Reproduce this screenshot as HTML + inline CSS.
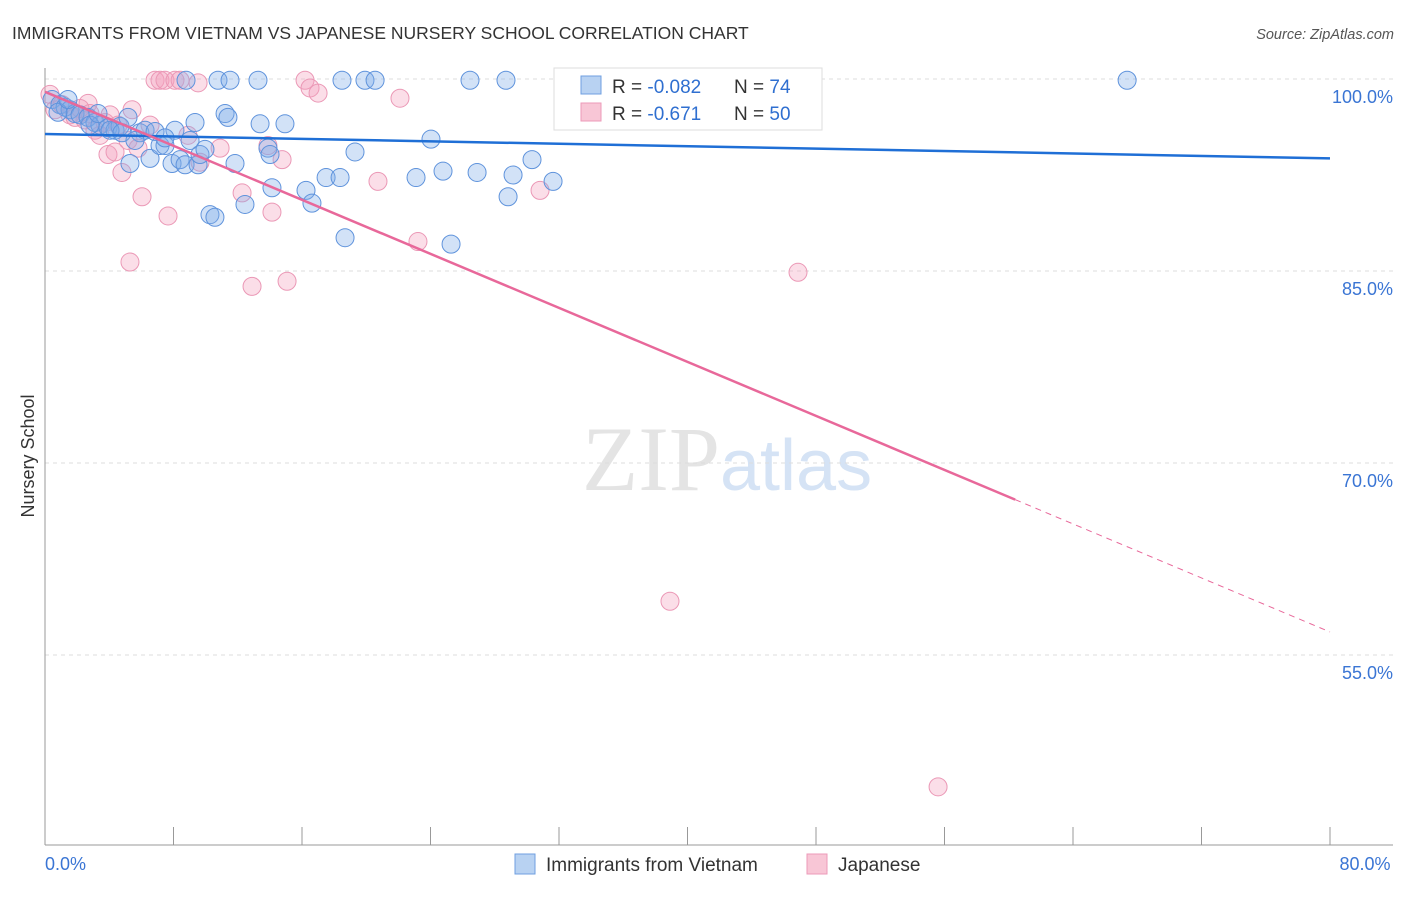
<!DOCTYPE html>
<html><head><meta charset="utf-8"><style>
body{margin:0;background:#fff;font-family:"Liberation Sans",sans-serif}
</style></head><body>
<svg id="c" width="1406" height="892" xmlns="http://www.w3.org/2000/svg">
<text x="12" y="39" font-size="17.5" fill="#333">IMMIGRANTS FROM VIETNAM VS JAPANESE NURSERY SCHOOL CORRELATION CHART</text>
<text x="1394" y="39" font-size="14.5" fill="#555" font-style="italic" text-anchor="end">Source: ZipAtlas.com</text>
<text x="720" y="490" font-size="92" fill="#e4e4e4" text-anchor="end" font-family="Liberation Serif">ZIP</text>
<text x="720" y="490" font-size="72" fill="#d5e3f5">atlas</text>
<text transform="translate(34,456) rotate(-90)" font-size="18" fill="#333" text-anchor="middle">Nursery School</text>
<g id="grid"></g><g id="pts"></g><g id="lines"></g>
<g>
<rect x="554" y="68" width="268" height="62" fill="#fff" stroke="#ddd"/>
<rect x="581" y="76" width="20" height="18" fill="#b8d2f2" stroke="#6f9fe0"/>
<rect x="581" y="103" width="20" height="18" fill="#f8c6d6" stroke="#ec9ab8"/>
<text x="612" y="93" font-size="19" fill="#333">R = <tspan fill="#2f6fd0">-0.082</tspan></text>
<text x="734" y="93" font-size="19" fill="#333">N = <tspan fill="#2f6fd0">74</tspan></text>
<text x="612" y="120" font-size="19" fill="#333">R = <tspan fill="#2f6fd0"> -0.671</tspan></text>
<text x="734" y="120" font-size="19" fill="#333">N = <tspan fill="#2f6fd0">50</tspan></text>
</g>
<g>
<rect x="515" y="854" width="20" height="20" fill="#b8d2f2" stroke="#6f9fe0"/>
<text x="546" y="871" font-size="19" fill="#333">Immigrants from Vietnam</text>
<rect x="807" y="854" width="20" height="20" fill="#f8c6d6" stroke="#ec9ab8"/>
<text x="838" y="871" font-size="19" fill="#333">Japanese</text>
</g>
</svg>
<script>
const xTicks=[0,80];
const yTicks=[100,85,70,55];
const blueX=[0.44,0.93,1.25,1.56,1.87,2.18,2.68,3.11,3.42,3.92,4.36,4.67,5.17,5.29,5.91,6.23,6.54,6.85,7.16,7.47,7.91,8.09,8.41,8.72,9.03,9.34,9.53,9.65,10.27,10.58,10.77,11.21,11.39,11.52,11.83,12.45,13.26,13.39,13.88,14.01,14.13,14.94,16.25,16.62,17.5,18.37,18.68,18.49,19.3,19.92,20.55,23.1,24.03,24.78,25.28,26.46,26.9,28.7,28.83,29.14,30.32,31.63,43.27,67.37,8.78,2.8,4.05,4.79,5.6,7.47,9.96,3.3,0.81,1.43];
const blueY=[98.4,98.0,97.8,97.6,97.3,97.2,97.0,96.6,96.4,96.2,96.0,96.3,97.0,93.4,95.8,96.0,93.8,95.9,94.8,94.8,93.4,96.0,93.7,93.3,95.2,96.6,93.3,94.1,89.4,89.2,99.9,97.3,97.0,99.9,93.4,90.2,99.9,96.5,94.6,94.1,91.5,96.5,91.3,90.3,92.3,92.3,87.6,99.9,94.3,99.9,99.9,92.3,95.3,92.8,87.1,99.9,92.7,99.9,90.8,92.5,93.7,92.0,99.9,99.9,99.9,96.4,96.0,95.8,95.2,95.4,94.5,97.3,97.4,98.4];
const pinkX=[0.31,0.62,1.06,1.56,1.87,2.49,2.68,3.11,3.42,3.74,3.92,4.36,4.79,5.17,5.29,5.42,5.79,6.04,6.54,6.85,7.16,7.47,7.66,8.09,8.41,8.9,9.53,9.65,10.9,12.27,12.89,13.88,14.13,14.76,15.07,16.19,16.5,17.0,20.73,22.1,23.22,30.82,36.86,38.91,46.88,55.6,4.05,2.18,4.55,2.8];
const pinkY=[98.8,97.6,98.0,97.2,97.0,96.8,98.1,96.0,95.6,96.6,94.1,94.3,92.7,95.2,85.7,97.6,94.6,90.8,96.4,99.9,99.9,99.9,89.3,99.9,99.9,95.6,99.7,93.5,94.6,91.1,83.8,94.8,89.6,93.7,84.2,99.9,99.3,98.9,92.0,98.5,87.3,91.3,99.9,59.2,84.9,44.7,97.2,97.7,96.4,97.3];
const blueFit=[95.7,93.8];
const pinkFit=[99.0,56.8];
const pinkSolidEnd=60.4;
const NS="http://www.w3.org/2000/svg";
const X=v=>45+v/80*1285, Y=v=>79+(100-v)*12.8;
function mk(t,a,p){const e=document.createElementNS(NS,t);for(const k in a)e.setAttribute(k,a[k]);document.getElementById(p).appendChild(e);return e;}
for(const t of yTicks){
 const l=mk('line',{x1:45,x2:1393,y1:Y(t),y2:Y(t),stroke:'#ddd','stroke-dasharray':'4,4'},'grid');
 
 
 const tx=mk('text',{x:1393,y:Y(t)+24,'font-size':18,fill:'#3a75d4','text-anchor':'end'},'grid');tx.textContent=t.toFixed(1)+'%';
 
 
}
mk('line',{x1:45,x2:45,y1:68,y2:845,stroke:'#999'},'grid');
mk('line',{x1:45,x2:1393,y1:845,y2:845,stroke:'#999'},'grid');
for(let i=0;i<=10;i++){const x=X(i*8);mk('line',{x1:x,x2:x,y1:827,y2:845,stroke:'#999'},'grid');}
xTicks.forEach((t,i)=>{const tx=mk('text',{x:X(t)+(i?0:0),y:870,'font-size':18,fill:'#3a75d4','text-anchor':i?'middle':'start'},'grid');tx.textContent=t.toFixed(1)+'%';
 if(i){tx.setAttribute('x',1365);}
 
 });
function pts(xs,ys,f,s,n){xs.forEach((x,i)=>{const c=mk('circle',{cx:X(x),cy:Y(ys[i]),r:9,fill:f,stroke:s,'stroke-width':1},'pts');
 
 });}
pts(pinkX,pinkY,'rgba(244,160,188,0.35)','#eb98b6','japanese-point');
pts(blueX,blueY,'rgba(125,172,232,0.35)','#5f93dc','vietnam-point');
const bl=mk('line',{x1:X(0),y1:Y(blueFit[0]),x2:X(80),y2:Y(blueFit[1]),stroke:'#1f6fd6','stroke-width':2.5},'lines');


const py=x=>pinkFit[0]+(pinkFit[1]-pinkFit[0])*x/80;
const pl=mk('line',{x1:X(0),y1:Y(pinkFit[0]),x2:X(pinkSolidEnd),y2:Y(py(pinkSolidEnd)),stroke:'#e8689a','stroke-width':2.5},'lines');


const pd=mk('line',{x1:X(pinkSolidEnd),y1:Y(py(pinkSolidEnd)),x2:X(80),y2:Y(pinkFit[1]),stroke:'#e8689a','stroke-width':1,'stroke-dasharray':'6,5'},'lines');


</script>
</body></html>
